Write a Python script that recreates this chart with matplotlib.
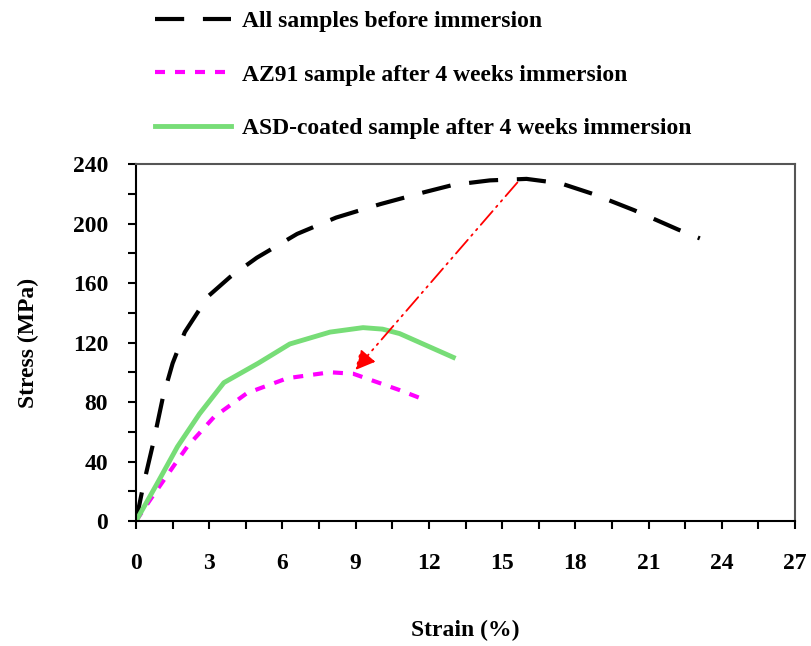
import matplotlib.pyplot as plt
from matplotlib.ticker import MultipleLocator

# 读取的数据 (从图中估计)
before_strain = [0, 0.3, 0.7, 1.1, 1.5, 2.0, 2.95, 3.85, 4.95, 6.6, 8.2, 10.0, 11.8, 13.0, 14.5, 16.0, 17.4, 18.7, 20.4, 22.2, 23.1]
before_stress = [0, 24, 52, 83, 106, 127, 151, 164, 177, 193, 204, 213, 221, 226, 229, 230, 227, 220, 209, 196, 190]

az91_strain = [0, 0.57, 1.5, 2.1, 3.2, 4.55, 6.2, 7.95, 8.9, 10.8, 11.9]
az91_stress = [0, 14, 36, 50, 70, 86, 96, 100, 99, 88, 81]

asd_strain = [0, 0.86, 1.7, 2.6, 3.6, 5.0, 6.3, 7.95, 9.3, 10.1, 10.8, 13.0]
asd_stress = [0, 25, 50, 72, 93, 106, 119, 127, 130, 129, 126, 110]

labels = ["All samples before immersion",
          "AZ91 sample after 4 weeks immersion",
          "ASD-coated sample after 4 weeks immersion"]

plt.rcParams['font.family'] = ['Liberation Serif', 'DejaVu Serif']
plt.rcParams['font.weight'] = 'bold'

fig = plt.figure(figsize=(8.11, 6.46), dpi=100)
ax = fig.add_axes([0.1677, 0.1935, 0.8126, 0.5526])

ax.plot(before_strain, before_stress, color='black', lw=3, dashes=(7, 4.5), label=labels[0])
ax.plot(az91_strain, az91_stress, color='#ff00ff', lw=3, dashes=(2.4, 2.4), label=labels[1])
ax.plot(asd_strain, asd_stress, color='#77dd77', lw=3.5, label=labels[2])

# 红色箭头
ax.annotate('', xy=(8.9, 100), xytext=(15.7, 229),
            arrowprops=dict(arrowstyle='-|>', color='red', lw=1.3,
                            linestyle=(0, (10, 3, 1, 3, 1, 3)),
                            mutation_scale=30))

ax.set_xlim(0, 27)
ax.set_ylim(0, 240)
ax.xaxis.set_major_locator(MultipleLocator(3))
ax.xaxis.set_minor_locator(MultipleLocator(1.5))
ax.yaxis.set_major_locator(MultipleLocator(40))
ax.yaxis.set_minor_locator(MultipleLocator(20))
ax.tick_params(which='both', direction='out', length=6, width=1.5, labelsize=17)
ax.tick_params(axis='x', pad=17)
ax.tick_params(axis='y', pad=14)
for s in ax.spines.values():
    s.set_linewidth(1.5)
ax.spines['top'].set_color('#555555')
ax.spines['right'].set_color('#555555')

ax.set_xlabel("Strain (%)", fontsize=17, fontweight='bold', labelpad=33)
ax.set_ylabel("Stress (MPa)", fontsize=17, fontweight='bold', labelpad=24)

ax.legend(loc='upper left', bbox_to_anchor=(0.015, 1.456), frameon=False,
          fontsize=17, handlelength=3.2, handletextpad=0.45, labelspacing=1.35,
          borderaxespad=0)

fig.savefig("out.png", dpi=100)
